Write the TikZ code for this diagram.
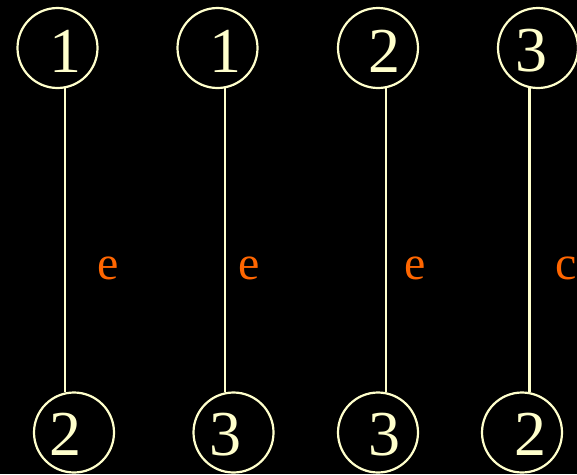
\documentclass[tikz,border=0pt]{standalone}
\usepackage{fontspec}
\setmainfont{Liberation Serif}
\definecolor{pale}{HTML}{FFFFCC}
\definecolor{tagcol}{HTML}{FF6600}
\begin{document}
\begin{tikzpicture}[x=1pt,y=-1pt,
  vert/.style={circle, draw=pale, line width=2.2pt, minimum size=80pt, inner sep=0pt},
  digit/.style={text=pale, font=\fontsize{64}{64}\selectfont, inner sep=0pt},
  edge/.style={draw=pale, line width=2.2pt},
  tag/.style={text=tagcol, font=\fontsize{48}{48}\selectfont, inner sep=0pt, anchor=base}]
\fill[black] (0,0) rectangle (577,474);
\useasboundingbox (0,0) rectangle (577,474);

% top row
\node[vert, label={[digit, xshift=7.5pt, yshift=-3pt]center:1}] (t1) at (57.5,48) {};
\node[vert, label={[digit, xshift=7.5pt, yshift=-3pt]center:1}] (t2) at (217.5,48) {};
\node[vert, label={[digit, xshift=6.5pt, yshift=-3pt]center:2}] (t3) at (378,48) {};
\node[vert, label={[digit, xshift=-7pt, yshift=-3pt]center:3}] (t4) at (538,48) {};

% bottom row
\node[vert, label={[digit, xshift=-9pt, yshift=-2pt]center:2}] (b1) at (74,432.5) {};
\node[vert, label={[digit, xshift=-8.5pt, yshift=-2pt]center:3}] (b2) at (233.5,432.5) {};
\node[vert, label={[digit, xshift=6.5pt, yshift=-2pt]center:3}] (b3) at (378,432.5) {};
\node[vert, label={[digit, xshift=8pt, yshift=-2pt]center:2}] (b4) at (522,432.5) {};

% vertical edges
\draw[edge] (t1.-79) -- (t1.-79 |- b1.102);
\draw[edge] (t2.-79) -- (t2.-79 |- b2.102);
\draw[edge] (t3.-79) -- (t3.-79 |- b3.79);
\draw[edge] (t4.-102) -- (t4.-102 |- b4.79);

% edge tags
\node[tag] (e1) at (107.8,279.5) {e};
\node[tag] (e2) at (249,279.5) {e};
\node[tag] (e3) at (415,279.5) {e};
\node[tag] (e4) at (566.5,279.5) {c};
\end{tikzpicture}
\end{document}
